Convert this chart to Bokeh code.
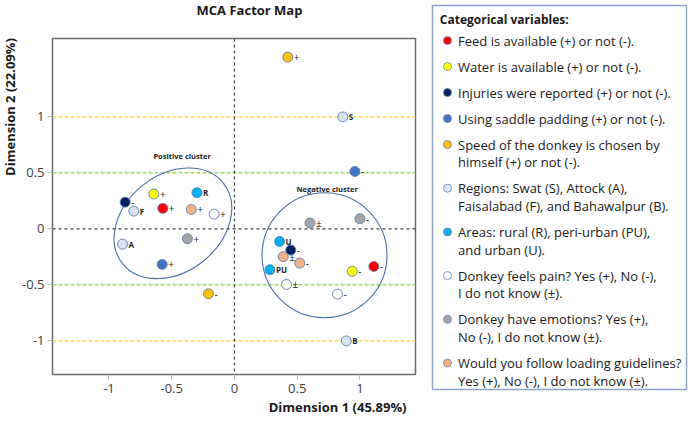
import math
from bokeh.plotting import figure
from bokeh.models import Range1d, Span, Title, FixedTicker
from bokeh.layouts import row, column
from bokeh.embed import file_html
from bokeh.resources import INLINE
from bokeh.core.properties import value

FONT = "Open Sans"

# ---------------- data ----------------
var_names = ["feed", "water", "injuries", "saddle", "speed",
             "regions", "areas", "pain", "emotions", "loading"]
var_colors = ["#ff0000", "#ffff00", "#002060", "#4472c4", "#ffc000",
              "#dae3f3", "#00b0f0", "#ffffff", "#a5a5a5", "#f4b183"]
legend_lines = [
    ["Feed is available (+) or not (-)."],
    ["Water is available (+) or not (-)."],
    ["Injuries were reported (+) or not (-)."],
    ["Using saddle padding (+) or not (-)."],
    ["Speed of the donkey is chosen by", "himself (+) or not (-)."],
    ["Regions: Swat (S), Attock (A),", "Faisalabad (F), and Bahawalpur (B)."],
    ["Areas: rural (R), peri-urban (PU),", "and urban (U)."],
    ["Donkey feels pain? Yes (+), No (-),", "I do not know (\u00b1)."],
    ["Donkey have emotions? Yes (+),", "No (-), I do not know (\u00b1)."],
    ["Would you follow loading guidelines?", "Yes (+), No (-), I do not know (\u00b1)."],
]

pt_var = ["feed", "feed", "water", "water", "injuries", "injuries",
          "saddle", "saddle", "speed", "speed",
          "regions", "regions", "regions", "regions",
          "areas", "areas", "areas",
          "pain", "pain", "pain",
          "emotions", "emotions", "emotions",
          "loading", "loading", "loading"]
pt_label = ["+", "-", "+", "-", "-", "-",
            "+", "-", "+", "-",
            "S", "A", "F", "B",
            "R", "PU", "U",
            "+", "\u00b1", "-",
            "+", "\u00b1", "-",
            "+", "\u00b1", "-"]
pt_x = [-0.571, 1.111, -0.642, 0.939, -0.871, 0.449,
        -0.576, 0.960, 0.425, -0.207,
        0.863, -0.892, -0.802, 0.892,
        -0.299, 0.283, 0.360,
        -0.162, 0.415, 0.821,
        -0.375, 0.602, 1.000,
        -0.344, 0.389, 0.520]
pt_y = [0.183, -0.335, 0.311, -0.379, 0.239, -0.189,
        -0.317, 0.513, 1.534, -0.579,
        1.000, -0.136, 0.159, -1.000,
        0.323, -0.364, -0.112,
        0.132, -0.496, -0.582,
        -0.088, 0.052, 0.091,
        0.174, -0.248, -0.305]

x_ticks = [-1.0, -0.5, 0.0, 0.5, 1.0]
x_tick_labels = ["-1", "-0.5", "0", "0.5", "1"]
y_ticks = [-1.0, -0.5, 0.0, 0.5, 1.0]
y_tick_labels = ["-1", "-0.5", "0", "0.5", "1"]

ref_y = [1, 0.5, 0, -0.5, -1]
ref_y_colors = ["#f2cf3c", "#92d050", "#404040", "#92d050", "#f2cf3c"]
ref_x = [0]

cluster_names = ["Positive cluster", "Negative cluster"]
cluster_cx = [-0.49, 0.718]
cluster_cy = [0.05, -0.235]
cluster_label_x = [-0.417, 0.739]
cluster_label_y = [0.654, 0.359]

title_text = "MCA Factor Map"
x_title = "Dimension 1 (45.89%)"
y_title = "Dimension 2 (22.09%)"


def bare(fig):
    try:
        fig.frame_align = False
    except Exception:
        pass
    fig.grid.visible = False
    fig.outline_line_color = None
    fig.background_fill_color = "white"
    fig.border_fill_color = "white"


# ---------------- main plot ----------------
p = figure(width=411, height=402,
           x_range=Range1d(-1.45, 1.443), y_range=Range1d(-1.30, 1.70),
           output_backend="svg", toolbar_location=None, title=None,
           min_border_left=31, min_border_right=15,
           min_border_top=18, min_border_bottom=48)
bare(p)
p.outline_line_color = "#6b6b6b"
p.outline_line_width = 1.5

for ax, ticks, labs in ((p.xaxis, x_ticks, x_tick_labels),
                        (p.yaxis, y_ticks, y_tick_labels)):
    ax.ticker = FixedTicker(ticks=ticks)
    ax.major_label_overrides = dict(zip(ticks, labs))
    ax.axis_line_color = None
    ax.major_tick_line_color = "#a9bbd4"
    ax.major_tick_out = 5
    ax.major_tick_in = 0
    ax.minor_tick_line_color = None
    ax.major_label_text_font = FONT
    ax.major_label_text_font_size = "13px"
    ax.major_label_text_color = "#404040"
p.xaxis.major_label_standoff = 4
p.yaxis.major_label_standoff = 3

for yv, c in zip(ref_y, ref_y_colors):
    dash = "3 3" if yv == 0 else "4 2"
    p.add_layout(Span(location=yv, dimension="width", line_color=c,
                      line_dash=dash, line_width=1.2, level="underlay"))
for xv in ref_x:
    p.add_layout(Span(location=xv, dimension="height", line_color="#404040",
                      line_dash="3 3", line_width=1.2, level="underlay"))

# cluster outlines
p.ellipse(x=cluster_cx[:1], y=cluster_cy[:1], width=129, height=97,
          angle=38.6, angle_units="deg",
          width_units="screen", height_units="screen",
          fill_color=None, line_color="#4a6ea8", line_width=1.1)
p.ellipse(x=cluster_cx[1:], y=cluster_cy[1:], width=125, height=125,
          width_units="screen", height_units="screen",
          fill_color=None, line_color="#4a6ea8", line_width=1.1)
p.text(x=cluster_label_x, y=cluster_label_y, text=cluster_names,
       text_font=value(FONT), text_font_size="7.5px", text_font_style="bold",
       text_align="center", text_baseline="middle", text_color="#1a1a1a")

cmap = dict(zip(var_names, var_colors))
pt_color = [cmap[v] for v in pt_var]
p.scatter(x=pt_x, y=pt_y, size=10, fill_color=pt_color,
          line_color="#5f7fb0", line_width=0.9)

is_alpha = [lab.isalpha() for lab in pt_label]
p.text(x=pt_x, y=pt_y, text=pt_label, x_offset=6,
       text_font=value(FONT),
       text_font_size=["8px" if a else "10px" for a in is_alpha],
       text_font_style=["bold" if a else "normal" for a in is_alpha],
       text_align="left", text_baseline="middle", text_color="#262626")

p.add_layout(Title(text=x_title, align="right", offset=9,
                   text_font=FONT, text_font_size="13px", text_font_style="bold",
                   text_color="#1a1a1a", standoff=0), "below")

# ---------------- title strip (pixel coordinates) ----------------
tf = figure(width=411, height=20, x_range=Range1d(0, 411), y_range=Range1d(20, 0),
            output_backend="svg", toolbar_location=None, title=None,
            x_axis_type=None, y_axis_type=None,
            min_border_left=0, min_border_right=0, min_border_top=0, min_border_bottom=0)
bare(tf)
tf.text(x=[230], y=[9.5], text=[title_text], text_font=value(FONT),
        text_font_size="13px", text_font_style="bold", text_align="center",
        text_baseline="middle", text_color="#1a1a1a")

# ---------------- y-axis title strip ----------------
yf = figure(width=19, height=422, x_range=Range1d(0, 19), y_range=Range1d(422, 0),
            output_backend="svg", toolbar_location=None, title=None,
            x_axis_type=None, y_axis_type=None,
            min_border_left=0, min_border_right=0, min_border_top=0, min_border_bottom=0)
bare(yf)
yf.text(x=[9.5], y=[106.5], text=[y_title], text_font=value(FONT),
        text_font_size="13px", text_font_style="bold", angle=math.pi / 2,
        text_align="center", text_baseline="middle", text_color="#1a1a1a")

# ---------------- legend panel ----------------
lg = figure(width=260, height=422,
            x_range=Range1d(432, 686), y_range=Range1d(389, 5),
            output_backend="svg", toolbar_location=None, title=None,
            x_axis_type=None, y_axis_type=None,
            min_border_left=2, min_border_right=4,
            min_border_top=5, min_border_bottom=33)
bare(lg)
lg.outline_line_color = "#8ea5c8"
lg.outline_line_width = 1.5

y_first, step, gap = 40.0, 17.7, 26.0
line_x, line_y, line_txt = [], [], []
mark_y = []
yy = y_first
for lines in legend_lines:
    mark_y.append(yy)
    for i, t in enumerate(lines):
        line_x.append(457.5)
        line_y.append(yy + i * step)
        line_txt.append(t)
    yy += step * (len(lines) - 1) + gap

lg.text(x=[439.3], y=[19.0], text=["Categorical variables:"],
        text_font=value(FONT), text_font_size="12px", text_font_style="bold",
        text_align="left", text_baseline="middle", text_color="#1a1a1a")
lg.text(x=line_x, y=line_y, text=line_txt, text_font=value(FONT),
        text_font_size="13px", text_align="left", text_baseline="middle",
        text_color="#1a1a1a")
lg.scatter(x=[447.0] * len(mark_y), y=mark_y, size=8, fill_color=var_colors,
           line_color="#6f86a8", line_width=0.8)

layout = row(yf, column(tf, p), lg)
open("out.html", "w").write(file_html(layout, INLINE))
